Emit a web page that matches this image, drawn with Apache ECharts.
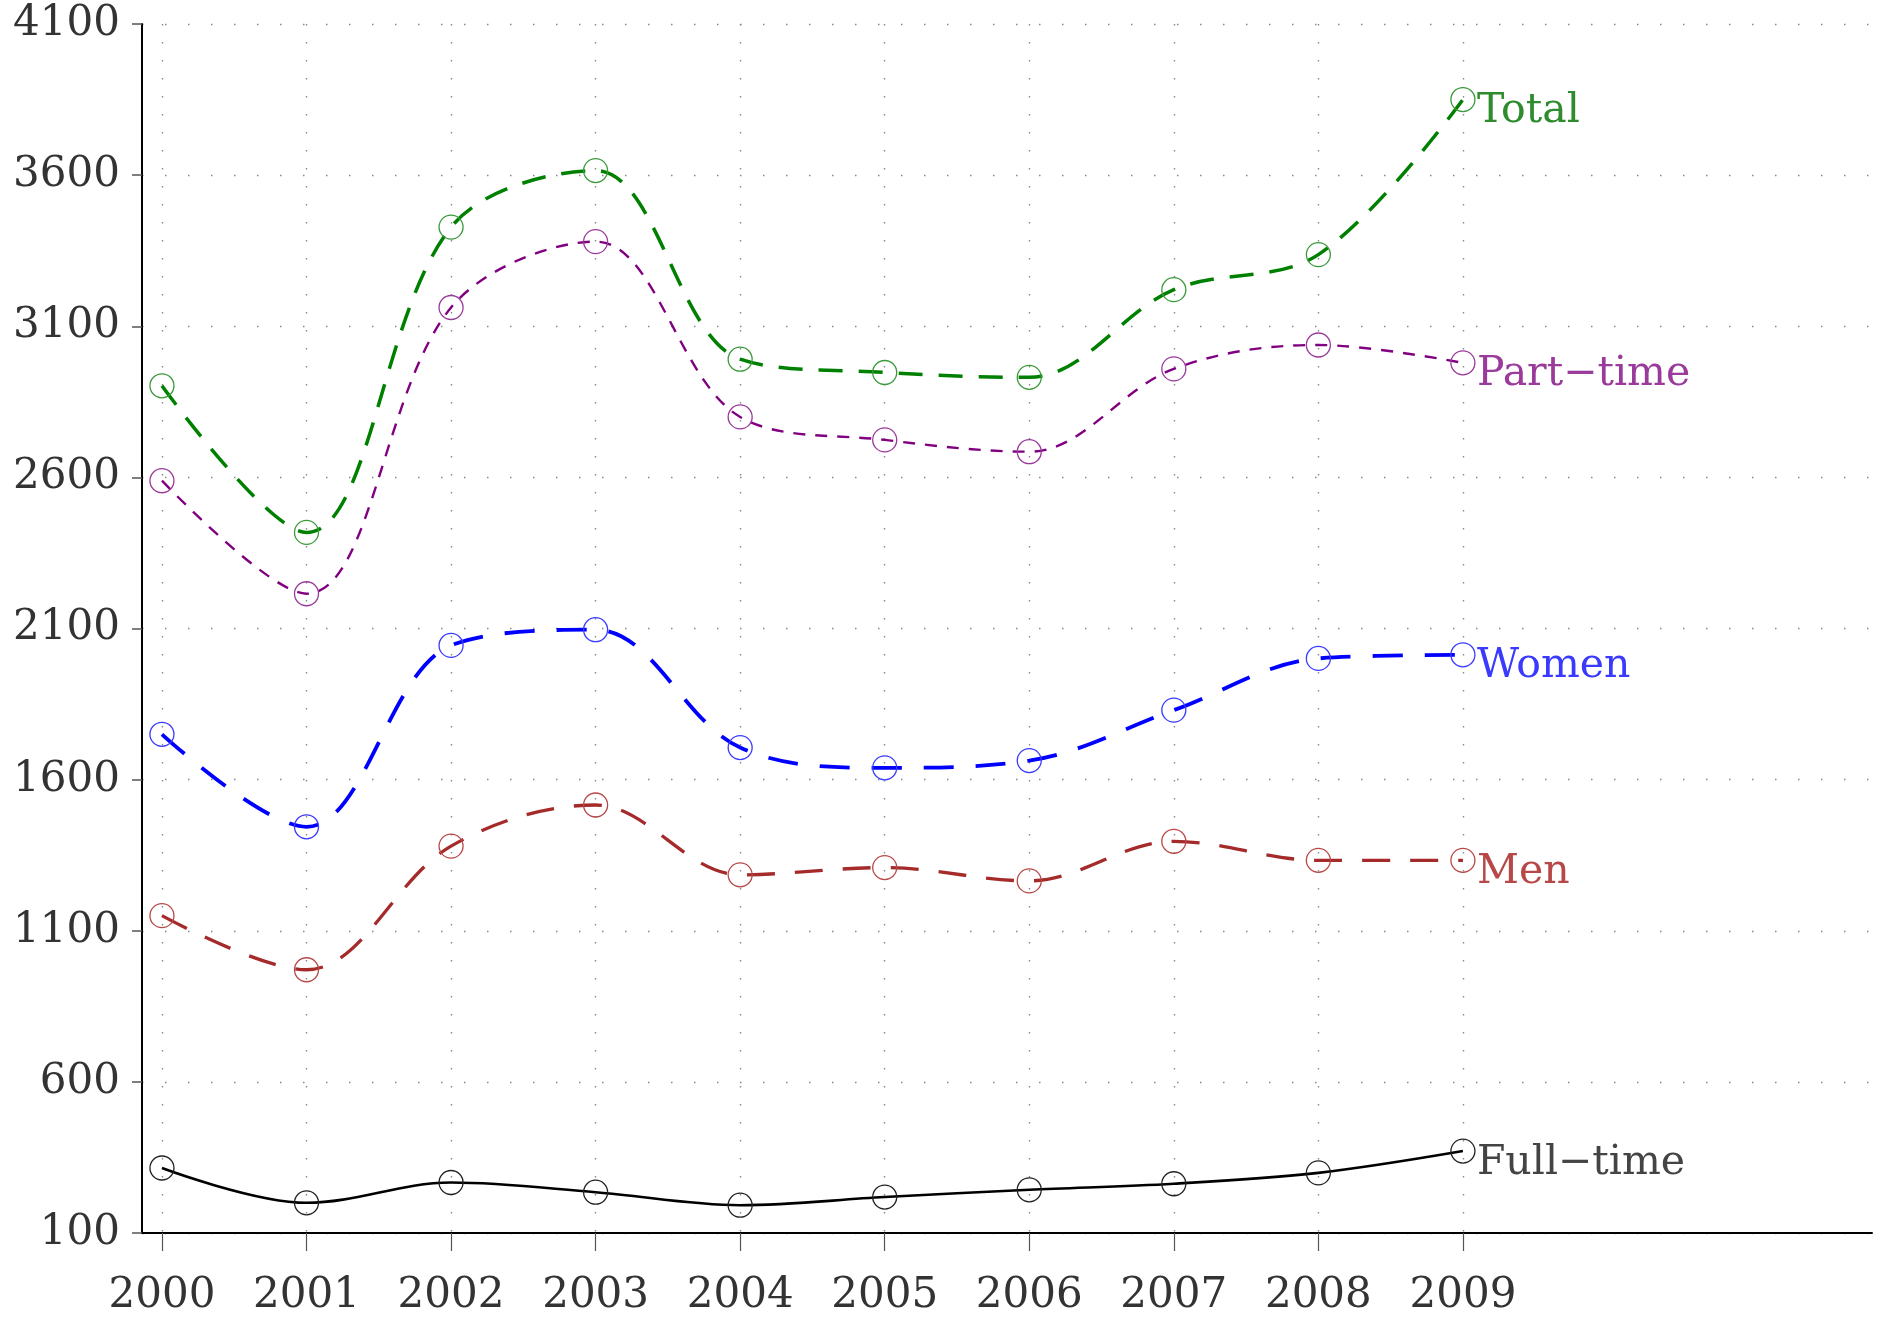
<!DOCTYPE html>
<html>
<head>
<meta charset="utf-8">
<script src="https://cdn.jsdelivr.net/npm/echarts@6/dist/echarts.min.js"></script>
<style>
  html, body { margin: 0; padding: 0; background: #fff; }
  #chart { width: 1884px; height: 1318px; }
</style>
</head>
<body>
<div id="chart"></div>
<script>
// 年份与各系列数值
let years = [2000, 2001, 2002, 2003, 2004, 2005, 2006, 2007, 2008, 2009]
let total = [2903, 2418, 3428, 3615, 2991, 2947, 2931, 3221, 3337, 3850]
let partTime = [2589, 2215, 3162, 3380, 2800, 2724, 2685, 2959, 3038, 2979]
let women = [1750, 1444, 2044, 2096, 1706, 1639, 1663, 1830, 2001, 2013]
let men = [1150, 971, 1380, 1516, 1285, 1309, 1265, 1396, 1333, 1333]
let fullTime = [315, 200, 267, 235, 192, 219, 243, 263, 299, 371]

let font = 'DejaVu Serif'

function pairs(values) {
    let out = []
    for (let i in years) {
        out.push([years[i], values[i]])
    }
    return out
}

function makeSeries(name, values, lineColor, markColor, textColor, width, dash) {
    return {
        name: name,
        type: 'line',
        smooth: 0.35,
        symbol: 'circle',
        symbolSize: 24,
        showSymbol: true,
        data: pairs(values),
        lineStyle: { color: lineColor, width: width, type: dash },
        itemStyle: { color: 'rgba(0,0,0,0)', borderColor: markColor, borderWidth: 1.3 },
        emphasis: { disabled: true },
        endLabel: {
            show: true,
            formatter: name,
            color: textColor,
            fontFamily: font,
            fontSize: 41,
            distance: 14,
            offset: [0, 12]
        },
        z: 3
    }
}

let myChart = echarts.init(document.getElementById('chart'))

let option = {
    animation: false,
    backgroundColor: '#fff',
    grid: { left: 142, right: 12, top: 24, bottom: 85, containLabel: false },
    xAxis: {
        type: 'value',
        min: 1999.862,
        max: 2011.83,
        axisLine: { lineStyle: { color: '#000', width: 2 } },
        axisTick: { customValues: years, length: 18, lineStyle: { color: '#555', width: 1.2 } },
        axisLabel: {
            customValues: years,
            fontFamily: font,
            fontSize: 42,
            color: '#333',
            margin: 42,
            formatter: v => String(v)
        },
        splitLine: { show: true, lineStyle: { color: '#888', width: 1.4, type: [1.5, 16.5] } }
    },
    yAxis: {
        type: 'value',
        min: 100,
        max: 4100,
        interval: 500,
        axisLine: { show: true, lineStyle: { color: '#000', width: 2 } },
        axisTick: { show: true, length: 10, lineStyle: { color: '#555', width: 1.5 } },
        axisLabel: {
            fontFamily: font,
            fontSize: 42,
            color: '#333',
            margin: 22,
            formatter: v => String(v)
        },
        splitLine: { show: true, lineStyle: { color: '#888', width: 1.4, type: [1.5, 21.5] } }
    },
    series: [
        makeSeries('Total', total, '#008000', '#3a9a3a', '#2e8b2e', 3.5, [24, 16]),
        makeSeries('Part\u2212time', partTime, '#800080', '#9a3a9a', '#9a3a9a', 2.4, [12, 10]),
        makeSeries('Women', women, '#0000ff', '#3a3aff', '#3a3aff', 3.8, [30, 22]),
        makeSeries('Men', men, '#a52a2a', '#b84848', '#b84848', 3.3, [28, 20]),
        makeSeries('Full\u2212time', fullTime, '#000', '#222', '#444', 2.6, 'solid')
    ]
}

myChart.setOption(option)
</script>
</body>
</html>
